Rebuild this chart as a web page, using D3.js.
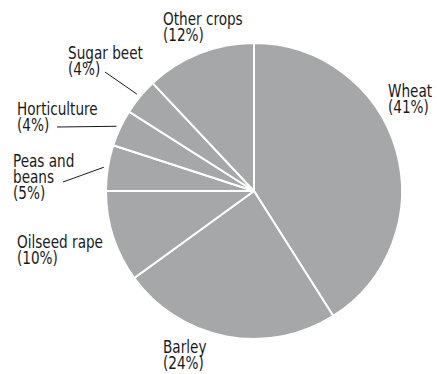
<!DOCTYPE html>
<html><head><meta charset="utf-8">
<script src="https://cdn.jsdelivr.net/npm/d3@7"></script>
<style>
html,body{margin:0;padding:0;background:#fff;}
text{font-family:"DejaVu Sans Condensed","Liberation Sans Narrow",sans-serif;font-size:17px;fill:#1a1a1a;}
</style></head>
<body><svg id="chart" width="437" height="374"></svg>
<script>
const categories = ["Wheat","Barley","Oilseed rape","Peas and beans","Horticulture","Sugar beet","Other crops"];
const values = [41,24,10,5,4,4,12];
const labelLines = [["Wheat","(41%)"],["Barley","(24%)"],["Oilseed rape","(10%)"],["Peas and","beans","(5%)"],["Horticulture","(4%)"],["Sugar beet","(4%)"],["Other crops","(12%)"]];

// layout (not data)
const cx = 254, cy = 191, R = 148, LR = 152;
const labelPos = [[388,97],[163,353],[17,248],[13,167],[17,115],[68,59],[163,25]];
const leaderStart = [null,null,null,[63,182],[57,127],[105,72],null];
const sx = 0.89;

const svg = d3.select("#chart");
const g = svg.append("g").attr("transform",`translate(${cx},${cy})`);
const pie = d3.pie().sort(null).value(d=>d)(values);
const arc = d3.arc().innerRadius(0).outerRadius(R);
g.selectAll("path").data(pie).enter().append("path")
  .attr("d",arc).attr("fill","#a6a7a9").attr("stroke","#fff").attr("stroke-width",2).attr("stroke-linejoin","round");

pie.forEach((d,i)=>{
  if(!leaderStart[i]) return;
  const a = (d.startAngle+d.endAngle)/2;
  const ex = cx + LR*Math.sin(a), ey = cy - LR*Math.cos(a);
  svg.append("line").attr("x1",leaderStart[i][0]).attr("y1",leaderStart[i][1])
    .attr("x2",ex).attr("y2",ey).attr("stroke","#1a1a1a").attr("stroke-width",1);
});

labelLines.forEach((lines,i)=>{
  const t = svg.append("text").attr("transform",`translate(${labelPos[i][0]},${labelPos[i][1]}) scale(${sx},1)`);
  lines.forEach((l,j)=>t.append("tspan").attr("x",0).attr("y",j*16).text(l));
});
</script></body></html>
